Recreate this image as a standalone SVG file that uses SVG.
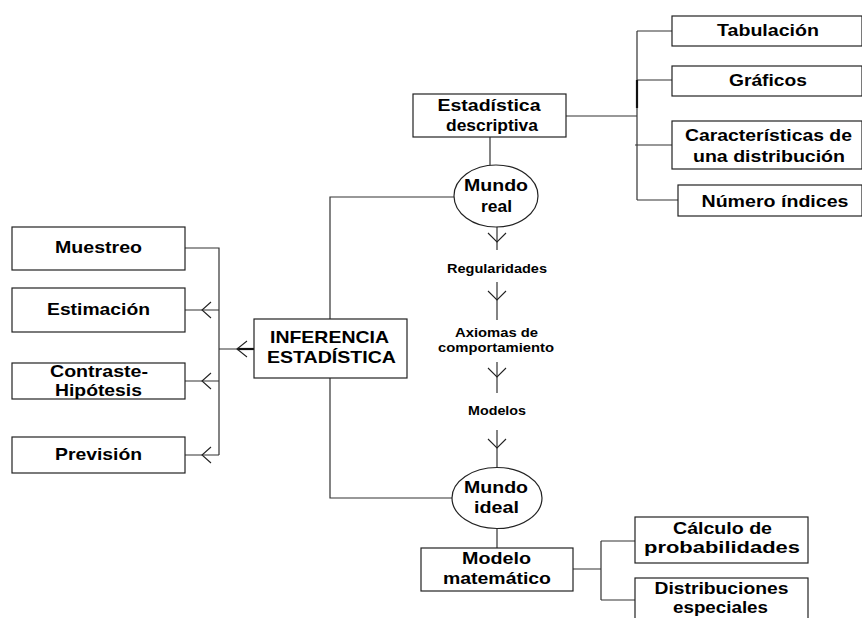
<svg xmlns="http://www.w3.org/2000/svg" width="862" height="618" viewBox="0 0 862 618">
  <style>
    .box { fill: #fff; stroke: #222; stroke-width: 1.2; }
    .ell { fill: #fff; stroke: #222; stroke-width: 1.2; }
    .wire { fill: none; stroke: #333; stroke-width: 1.2; }
    .thick { fill: none; stroke: #111; stroke-width: 2.2; }
    .head { fill: none; stroke: #222; stroke-width: 1.1; }
    text { font-family: "Liberation Sans", Arial, sans-serif; font-weight: bold; fill: #000; text-anchor: middle; }
    .t { font-size: 17px; }
    .s { font-size: 13px; }
  </style>
  <rect width="862" height="618" fill="#fff"/>

  <g id="connectors">
    <!-- descriptive branch -->
    <path class="wire" d="M490,137 V165"/>
    <path class="wire" d="M566,116 H637 M637,31 V200 M637,31 H672 M637,80 H672 M635,145 H672 M637,200 H678"/>
    <path class="thick" d="M637,80 V108"/>
    <!-- inference loop -->
    <path class="wire" d="M454,197 H330 V319 M330,378 V498 H452"/>
    <!-- inference bus -->
    <path class="wire" d="M185,248 H219 V455 M185,310 H219 M185,381 H219 M185,455 H219 M219,349 H254"/>
    <path class="thick" d="M237,349 H254"/>
    <path class="head" d="M211,302 L202,310 L211,318 M211,373 L202,381 L211,389 M211,447 L202,455 L211,463 M247,341 L237,349 L247,357"/>
    <!-- central chain -->
    <path class="wire" d="M497,226 V250 M497,282 V320 M497,362 V393 M497,430 V468"/>
    <path class="head" d="M488,233 L497,242 L506,233 M488,291 L497,300 L506,291 M488,368 L497,377 L506,368 M488,439 L497,448 L506,439"/>
    <!-- mathematical model branch -->
    <path class="wire" d="M497,529 V548 M573,569 H601 M601,541 V600 M601,541 H635 M601,600 H635"/>
  </g>

  <g id="estadistica-descriptiva">
    <rect class="box" x="413" y="94" width="153" height="43"/>
    <text class="t" x="489" y="111" textLength="103" lengthAdjust="spacingAndGlyphs">Estadística</text>
    <text class="t" x="492" y="131" textLength="92" lengthAdjust="spacingAndGlyphs">descriptiva</text>
  </g>
  <g id="tabulacion">
    <rect class="box" x="672" y="16" width="190" height="30"/>
    <text class="t" x="768" y="36" textLength="102" lengthAdjust="spacingAndGlyphs">Tabulación</text>
  </g>
  <g id="graficos">
    <rect class="box" x="672" y="66" width="190" height="30"/>
    <text class="t" x="768" y="86" textLength="78" lengthAdjust="spacingAndGlyphs">Gráficos</text>
  </g>
  <g id="caracteristicas">
    <rect class="box" x="672" y="121" width="190" height="48"/>
    <text class="t" x="768.5" y="141" textLength="167" lengthAdjust="spacingAndGlyphs">Características de</text>
    <text class="t" x="769" y="162" textLength="152" lengthAdjust="spacingAndGlyphs">una distribución</text>
  </g>
  <g id="numero-indices">
    <rect class="box" x="678" y="185" width="184" height="31"/>
    <text class="t" x="775" y="207" textLength="147" lengthAdjust="spacingAndGlyphs">Número índices</text>
  </g>

  <g id="mundo-real">
    <ellipse class="ell" cx="496" cy="196" rx="42" ry="31"/>
    <text class="t" x="496" y="191" textLength="64" lengthAdjust="spacingAndGlyphs">Mundo</text>
    <text class="t" x="496.5" y="212" textLength="31" lengthAdjust="spacingAndGlyphs">real</text>
  </g>

  <g id="regularidades">
    <text class="s" x="497" y="273" textLength="100" lengthAdjust="spacingAndGlyphs">Regularidades</text>
  </g>
  <g id="axiomas">
    <text class="s" x="496.5" y="337" textLength="83" lengthAdjust="spacingAndGlyphs">Axiomas de</text>
    <text class="s" x="496" y="352" textLength="116" lengthAdjust="spacingAndGlyphs">comportamiento</text>
  </g>
  <g id="modelos">
    <text class="s" x="497" y="415" textLength="58" lengthAdjust="spacingAndGlyphs">Modelos</text>
  </g>

  <g id="mundo-ideal">
    <ellipse class="ell" cx="497" cy="498" rx="45" ry="30.5"/>
    <text class="t" x="496" y="493" textLength="64" lengthAdjust="spacingAndGlyphs">Mundo</text>
    <text class="t" x="496.5" y="513" textLength="45" lengthAdjust="spacingAndGlyphs">ideal</text>
  </g>

  <g id="modelo-matematico">
    <rect class="box" x="421" y="548" width="152" height="43"/>
    <text class="t" x="496.5" y="564" textLength="69" lengthAdjust="spacingAndGlyphs">Modelo</text>
    <text class="t" x="497" y="584" textLength="108" lengthAdjust="spacingAndGlyphs">matemático</text>
  </g>
  <g id="calculo-probabilidades">
    <rect class="box" x="635" y="517" width="173" height="46"/>
    <text class="t" x="722.5" y="534" textLength="99" lengthAdjust="spacingAndGlyphs">Cálculo de</text>
    <text class="t" x="722" y="553" textLength="156" lengthAdjust="spacingAndGlyphs">probabilidades</text>
  </g>
  <g id="distribuciones-especiales">
    <rect class="box" x="635" y="578" width="173" height="50"/>
    <text class="t" x="721.5" y="594" textLength="134" lengthAdjust="spacingAndGlyphs">Distribuciones</text>
    <text class="t" x="720.5" y="613" textLength="95" lengthAdjust="spacingAndGlyphs">especiales</text>
  </g>

  <g id="inferencia-estadistica">
    <rect class="box" x="254" y="319" width="153" height="59"/>
    <text class="t" x="329.5" y="343" textLength="119" lengthAdjust="spacingAndGlyphs">INFERENCIA</text>
    <text class="t" x="331.5" y="363" textLength="129" lengthAdjust="spacingAndGlyphs">ESTADÍSTICA</text>
  </g>
  <g id="muestreo">
    <rect class="box" x="12" y="227" width="173" height="43"/>
    <text class="t" x="98.5" y="253" textLength="87" lengthAdjust="spacingAndGlyphs">Muestreo</text>
  </g>
  <g id="estimacion">
    <rect class="box" x="12" y="288" width="173" height="44"/>
    <text class="t" x="98.5" y="315" textLength="103" lengthAdjust="spacingAndGlyphs">Estimación</text>
  </g>
  <g id="contraste-hipotesis">
    <rect class="box" x="12" y="363" width="173" height="36"/>
    <text class="t" x="99" y="377" textLength="98" lengthAdjust="spacingAndGlyphs">Contraste-</text>
    <text class="t" x="98.5" y="396" textLength="87" lengthAdjust="spacingAndGlyphs">Hipótesis</text>
  </g>
  <g id="prevision">
    <rect class="box" x="12" y="437" width="173" height="36"/>
    <text class="t" x="98.5" y="460" textLength="87" lengthAdjust="spacingAndGlyphs">Previsión</text>
  </g>
</svg>
